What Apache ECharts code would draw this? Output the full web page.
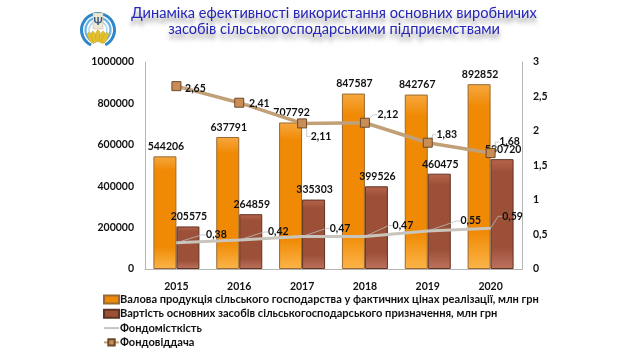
<!DOCTYPE html>
<html>
<head>
<meta charset="utf-8">
<style>html,body{margin:0;padding:0;background:#fff}#main{width:640px;height:360px}</style>
<script src="https://cdn.jsdelivr.net/npm/echarts@6/dist/echarts.min.js"></script>
</head>
<body>
<div id="main"></div>
<script>
var years = ['2015', '2016', '2017', '2018', '2019', '2020'];
var grossOutput = [544206, 637791, 707792, 847587, 842767, 892852];
var fixedAssets = [205575, 264859, 335303, 399526, 460475, 530720];
var capitalIntensity = [0.38, 0.42, 0.47, 0.47, 0.55, 0.59];
var capitalReturn = [2.65, 2.41, 2.11, 2.12, 1.83, 1.68];

// label shifts from the point, px
var intensityShift = [[40, -8], [39, -8], [38, -8], [38, -11], [43, -10], [22, -12]];
var returnShift = [[19, 2], [20, 1], [19, 13], [23, -8], [19, -8], [19, -11]];

var font = 'Lato, sans-serif';
var comma = function (v) { return String(v).replace('.', ','); };

function barFill(a, b, c) {
    return new echarts.graphic.LinearGradient(0, 0, 0, 1, [
        { offset: 0, color: a }, { offset: 0.12, color: b },
        { offset: 0.8, color: b }, { offset: 1, color: c }
    ]);
}

function shifted(shift) {
    return function (p) {
        return { dx: shift[p.dataIndex][0], dy: shift[p.dataIndex][1] };
    };
}

var barLabel = { show: true, position: 'top', distance: 4, offset: [1, 0], color: '#111', fontSize: 10.5, fontWeight: 'bold', fontFamily: font };
var lineLabel = {
    show: true, position: 'inside', color: '#111', fontSize: 10.5, fontWeight: 'bold', fontFamily: font,
    formatter: function (p) { return comma(p.value); }
};
var leader = { show: true, length2: 4, lineStyle: { color: '#bdbdbd', width: 0.8 } };
var axisText = { color: '#111', fontSize: 10.5, fontWeight: 'bold', fontFamily: font };

// emblem, top left
function arc(r, w, color, a, b) {
    return { type: 'arc', shape: { cx: 98, cy: 30, r: r, startAngle: a, endAngle: b }, style: { stroke: color, lineWidth: w, fill: null } };
}
function ear(x, y, rot) {
    return { type: 'ellipse', x: x, y: y, rotation: rot, shape: { cx: 0, cy: 0, rx: 2.4, ry: 6 }, style: { fill: '#e3c02e', stroke: '#b99a20', lineWidth: 0.4 } };
}
var emblem = [
    arc(16.5, 3, '#2f86c8', 2.0, 7.4),
    arc(12.5, 2.2, '#68b4e4', 2.1, 7.3),
    arc(9, 1.5, '#a9d6ef', 2.2, 7.2),
    { type: 'rect', shape: { x: 93, y: 13, width: 10, height: 16 }, style: { fill: '#eee8d2', stroke: '#bdb9a4', lineWidth: 0.5 } },
    { type: 'text', style: { x: 98, y: 21, text: 'Ψ', fill: '#3a5a80', fontSize: 11, fontWeight: 'bold', align: 'center', verticalAlign: 'middle', fontFamily: font } },
    ear(91, 38, 0.5), ear(94, 37, 0.25), ear(98, 36, 0), ear(102, 37, -0.25), ear(105, 38, -0.5)
];

var chart = echarts.init(document.getElementById('main'));
chart.setOption({
    animation: false,
    textStyle: { fontFamily: font },
    title: {
        text: 'Динаміка ефективності використання основних виробничих\nзасобів сільськогосподарськими підприємствами',
        left: 329, top: 0, textAlign: 'center',
        textStyle: {
            color: '#2525b8', fontSize: 14.6, fontWeight: 'normal', lineHeight: 16, fontFamily: font,
            textShadowColor: 'rgba(0,0,0,0.4)', textShadowBlur: 4, textShadowOffsetY: 5
        }
    },
    graphic: { elements: emblem },
    grid: { left: 145, right: 118, top: 62, bottom: 91 },
    legend: {
        left: 103, top: 293.5, padding: 0, orient: 'vertical', itemGap: 2.3, itemWidth: 15, itemHeight: 8,
        textStyle: { color: '#111', fontSize: 11.1, fontWeight: 'bold', lineHeight: 12, fontFamily: font, padding: [0, 0, 0, -4] },
        data: [
            { name: 'Валова продукція сільського господарства у фактичних цінах реалізації, млн грн', icon: 'rect' },
            { name: 'Вартість основних засобів сільськогосподарського призначення, млн грн', icon: 'rect' },
            { name: 'Фондомісткість', itemStyle: { opacity: 0 } },
            'Фондовіддача'
        ]
    },
    xAxis: {
        type: 'category', data: years,
        axisTick: { show: false },
        axisLine: { lineStyle: { color: '#b5b5b5', width: 1 } },
        axisLabel: Object.assign({ margin: 12 }, axisText)
    },
    yAxis: [{
        type: 'value', min: 0, max: 1000000, interval: 200000,
        splitLine: { show: false }, axisTick: { show: false },
        axisLine: { show: true, lineStyle: { color: '#b5b5b5' } },
        axisLabel: Object.assign({ margin: 11, formatter: function (v) { return String(v); } }, axisText)
    }, {
        type: 'value', min: 0, max: 3, interval: 0.5,
        splitLine: { show: false }, axisTick: { show: false },
        axisLine: { show: true, lineStyle: { color: '#b5b5b5' } },
        axisLabel: Object.assign({ margin: 11, formatter: comma }, axisText)
    }],
    series: [{
        name: 'Валова продукція сільського господарства у фактичних цінах реалізації, млн грн',
        type: 'bar', data: grossOutput, barWidth: 23, barGap: '0%',
        itemStyle: { color: barFill('#f6a83f', '#f08a05', '#fbb549'), borderColor: '#9a6a32', borderWidth: 1 },
        label: barLabel
    }, {
        name: 'Вартість основних засобів сільськогосподарського призначення, млн грн',
        type: 'bar', data: fixedAssets, barWidth: 23,
        itemStyle: { color: barFill('#b8644c', '#9c5038', '#bd7260'), borderColor: '#5f3322', borderWidth: 1 },
        label: barLabel
    }, {
        name: 'Фондомісткість',
        type: 'line', yAxisIndex: 1, data: capitalIntensity, symbol: 'circle', symbolSize: 1,
        lineStyle: { color: '#c9c5bd', width: 3 },
        itemStyle: { color: '#c9c5bd' },
        label: lineLabel, labelLine: leader, labelLayout: shifted(intensityShift)
    }, {
        name: 'Фондовіддача',
        type: 'line', yAxisIndex: 1, data: capitalReturn, symbol: 'rect', symbolSize: 9,
        lineStyle: { color: '#c2a077', width: 3.5 },
        itemStyle: { color: '#c98d55', borderColor: '#6d4a28', borderWidth: 1 },
        label: lineLabel, labelLine: leader, labelLayout: shifted(returnShift)
    }]
});
</script>
</body>
</html>
